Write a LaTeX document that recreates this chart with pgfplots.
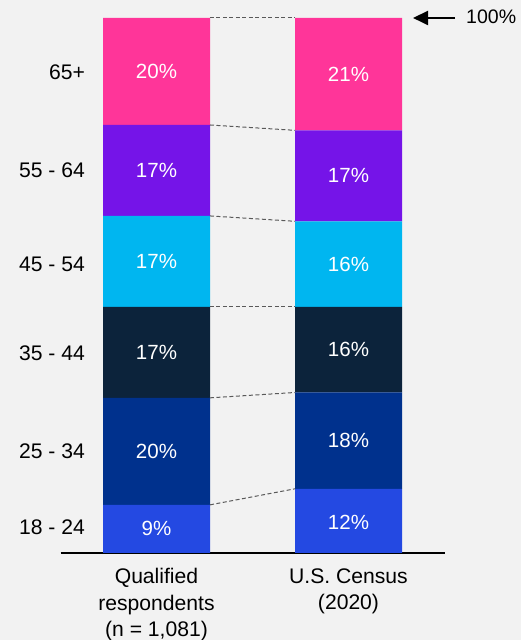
\documentclass[border=0pt]{standalone}
\usepackage{pgfplots}
\pgfplotsset{compat=1.18}
\usepackage{fontspec}
\setmainfont{Liberation Sans}
\usetikzlibrary{arrows.meta}
\definecolor{bg}{HTML}{F2F2F2}
\definecolor{cA}{HTML}{2449E2}
\definecolor{cB}{HTML}{00318D}
\definecolor{cC}{HTML}{0C233B}
\definecolor{cD}{HTML}{00B6F0}
\definecolor{cE}{HTML}{7514E8}
\definecolor{cF}{HTML}{FF3599}
\newcommand{\lf}{\fontsize{21.2}{26.5}\selectfont}
\newcommand{\vf}{\fontsize{20.6}{24}\selectfont}
\newcommand{\af}{\fontsize{19.6}{24}\selectfont}
\begin{document}
\begin{tikzpicture}[x=1bp,y=1bp]
\fill[bg] (0,0) rectangle (521,640);
\begin{axis}[at={(60.5bp,87bp)}, anchor=south west, scale only axis,
  width=384bp, height=535bp, xmin=-0.5, xmax=1.5, ymin=0, ymax=100,
  ybar stacked, bar width=107bp,
  axis y line=none, axis x line=bottom,
  x axis line style={-, line width=2bp, black},
  xtick={0,1},
  xticklabels={{Qualified\\respondents\\(n = 1,081)},{U.S. Census\\(2020)}},
  major tick length=0pt,
  xticklabel style={align=center, anchor=north, font=\lf, yshift=-12bp},
  clip=false]
\addplot[fill=cA, draw=none] coordinates {(0,9) (1,12)};
\addplot[fill=cB, draw=none] coordinates {(0,20) (1,18)};
\addplot[fill=cC, draw=none] coordinates {(0,17) (1,16)};
\addplot[fill=cD, draw=none] coordinates {(0,17) (1,16)};
\addplot[fill=cE, draw=none] coordinates {(0,17) (1,17)};
\addplot[fill=cF, draw=none] coordinates {(0,20) (1,21)};
\end{axis}
\begin{axis}[at={(60.5bp,87bp)}, anchor=south west, scale only axis,
  width=384bp, height=535bp, xmin=-0.5, xmax=1.5, ymin=0, ymax=100,
  hide axis, clip=false]
\addplot[black!65, dash pattern=on 4bp off 2.5bp, line width=1bp] coordinates {(0.2786,9) (0.7214,12)};
\addplot[black!65, dash pattern=on 4bp off 2.5bp, line width=1bp] coordinates {(0.2786,29) (0.7214,30)};
\addplot[black!65, dash pattern=on 4bp off 2.5bp, line width=1bp] coordinates {(0.2786,46) (0.7214,46)};
\addplot[black!65, dash pattern=on 4bp off 2.5bp, line width=1bp] coordinates {(0.2786,63) (0.7214,62)};
\addplot[black!65, dash pattern=on 4bp off 2.5bp, line width=1bp] coordinates {(0.2786,80) (0.7214,79)};
\addplot[black!65, dash pattern=on 4bp off 2.5bp, line width=1bp] coordinates {(0.2786,100) (0.7214,100)};
\addplot[black, line width=2bp, -{Triangle[length=15bp,width=14bp]}] coordinates {(1.555,100) (1.336,100)};
\node[anchor=west, inner sep=0, font=\af] at (axis cs:1.612,100.3) {100\%};
% category labels
\node[anchor=east, inner sep=0, font=\lf] at (axis cs:-0.372,89.9) {65+};
\node[anchor=east, inner sep=0, font=\lf] at (axis cs:-0.372,71.6) {55 - 64};
\node[anchor=east, inner sep=0, font=\lf] at (axis cs:-0.372,54.0) {45 - 54};
\node[anchor=east, inner sep=0, font=\lf] at (axis cs:-0.372,37.4) {35 - 44};
\node[anchor=east, inner sep=0, font=\lf] at (axis cs:-0.372,19.1) {25 - 34};
\node[anchor=east, inner sep=0, font=\lf] at (axis cs:-0.372,4.9) {18 - 24};
% value labels
\node[font=\vf, text=white, inner sep=0] at (axis cs:0,4.5) {9\%};
\node[font=\vf, text=white, inner sep=0] at (axis cs:0,19) {20\%};
\node[font=\vf, text=white, inner sep=0] at (axis cs:0,37.5) {17\%};
\node[font=\vf, text=white, inner sep=0] at (axis cs:0,54.5) {17\%};
\node[font=\vf, text=white, inner sep=0] at (axis cs:0,71.5) {17\%};
\node[font=\vf, text=white, inner sep=0] at (axis cs:0,90) {20\%};
\node[font=\vf, text=white, inner sep=0] at (axis cs:1,5.8) {12\%};
\node[font=\vf, text=white, inner sep=0] at (axis cs:1,21) {18\%};
\node[font=\vf, text=white, inner sep=0] at (axis cs:1,38) {16\%};
\node[font=\vf, text=white, inner sep=0] at (axis cs:1,54) {16\%};
\node[font=\vf, text=white, inner sep=0] at (axis cs:1,70.5) {17\%};
\node[font=\vf, text=white, inner sep=0] at (axis cs:1,89.5) {21\%};
\end{axis}
\pgfresetboundingbox
\path (0,0) rectangle (521,640);
\end{tikzpicture}
\end{document}
